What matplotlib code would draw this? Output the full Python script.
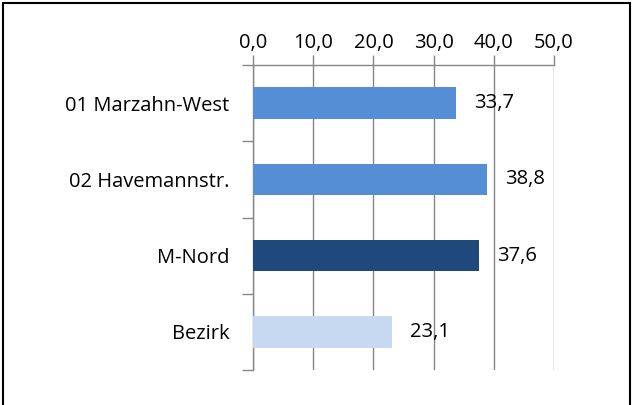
import matplotlib.pyplot as plt
import matplotlib.patches as mpatches
import numpy as np

categories = ["01 Marzahn-West", "02 Havemannstr.", "M-Nord", "Bezirk"]
values = [33.7, 38.8, 37.6, 23.1]
colors = ["#558ED5", "#558ED5", "#1F497D", "#C6D9F1"]
xticks = [0, 10, 20, 30, 40, 50]

plt.rcParams['font.family'] = ['Open Sans', 'DejaVu Sans']
fs = 14.5

fig = plt.figure(figsize=(6.34, 4.05), dpi=100)
ax = fig.add_axes([0.399, 0.0864, 0.475, 0.7531])

y = np.arange(len(categories))
ax.barh(y, values, height=0.41, color=colors, zorder=3)

ax.set_xlim(0, 50)
ax.set_ylim(3.5, -0.5)

grid_col = "#868686"
ax.xaxis.tick_top()
ax.set_xticks(xticks)
ax.set_xticklabels([f"{t:.1f}".replace(".", ",") for t in xticks])
ax.tick_params(axis='x', direction='out', length=7, width=1, color=grid_col,
               labelsize=fs, pad=2)
ax.grid(axis='x', color=grid_col, linewidth=1, zorder=0)

ax.set_yticks(y)
ax.set_yticklabels(categories)
ax.tick_params(axis='y', length=0, labelsize=fs, pad=17)
ax.set_yticks(np.arange(-0.5, len(categories)), minor=True)
ax.tick_params(axis='y', which='minor', direction='out', length=8, width=1, color=grid_col)

for s in ['right', 'bottom']:
    ax.spines[s].set_visible(False)
for s in ['left', 'top']:
    ax.spines[s].set_color(grid_col)
    ax.spines[s].set_linewidth(1)

for yi, v in zip(y, values):
    ax.annotate(f"{v:.1f}".replace(".", ","), (v, yi), xytext=(13, 0),
                textcoords='offset points', va='center', ha='left', fontsize=fs)

fig.patches.append(mpatches.Rectangle((0.005, -0.1), 0.988, 1.093, transform=fig.transFigure,
                                      fill=False, edgecolor='black', linewidth=1.5))

fig.savefig("out.png", dpi=100)
